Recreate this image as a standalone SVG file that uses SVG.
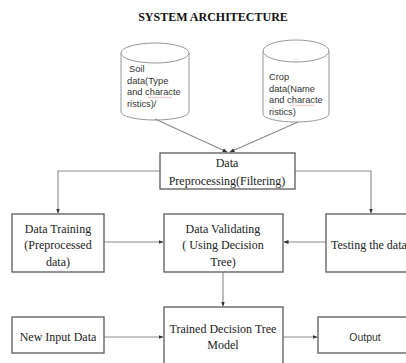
<svg xmlns="http://www.w3.org/2000/svg" width="406" height="363" viewBox="0 0 406 363">
<defs>
<marker id="ah" markerWidth="5" markerHeight="5" refX="4.5" refY="2.5" orient="auto" markerUnits="userSpaceOnUse">
<path d="M0,0.5 L5,2.5 L0,4.5 Z" fill="#333"/>
</marker>
<style>
.box{fill:#fff;stroke:#666;stroke-width:1.4}
.cyl{fill:#fff;stroke:#999;stroke-width:1}
.ln{fill:none;stroke:#8a8a8a;stroke-width:1.1;marker-end:url(#ah)}
.t{font-family:"Liberation Serif",serif;font-size:12px;fill:#222;text-anchor:middle}
.s{font-family:"Liberation Sans",Arial,sans-serif;font-size:9.3px;fill:#333}
.o{font-family:"Liberation Sans",Arial,sans-serif;font-size:10.5px;fill:#333;text-anchor:middle}
.title{font-family:"Liberation Serif",serif;font-size:12px;font-weight:bold;fill:#111;text-anchor:middle}
.sq{fill:none;stroke:#f0a0a8;stroke-width:0.7}
</style>
</defs>
<rect width="406" height="363" fill="#fff"/>
<text class="title" x="213" y="21">SYSTEM ARCHITECTURE</text>

<g id="soil">
<path class="cyl" d="M121,53 L121,112 A34,8 0 0 0 189,112 L189,53"/>
<ellipse class="cyl" cx="155" cy="53" rx="34" ry="10"/>
<text class="s" x="127" y="72"><tspan x="129">Soil</tspan><tspan x="127" dy="11.5">data(Type</tspan><tspan x="127" dy="11.5">and characte</tspan><tspan x="127" dy="11.5">ristics)/</tspan></text>
<path class="sq" d="M148,97 l2,1 l2,-1 l2,1 l2,-1 l2,1 l2,-1 l2,1 l2,-1 l2,1 l2,-1 l2,1 l2,-1"/>
</g>

<g id="crop">
<path class="cyl" d="M263,51 L263,114 A33,8 0 0 0 329,114 L329,51"/>
<ellipse class="cyl" cx="296" cy="51" rx="33" ry="11"/>
<text class="s" x="269" y="80"><tspan x="269">Crop</tspan><tspan x="269" dy="11.5">data(Name</tspan><tspan x="269" dy="11.5">and characte</tspan><tspan x="269" dy="11.5">ristics)</tspan></text>
<path class="sq" d="M290,105 l2,1 l2,-1 l2,1 l2,-1 l2,1 l2,-1 l2,1 l2,-1 l2,1 l2,-1 l2,1 l2,-1"/>
</g>

<g id="connectors">
<path class="ln" d="M155,119 L227,152"/>
<path class="ln" d="M298,122 L230,152"/>
<path class="ln" d="M160,171 L58,171 L58,213"/>
<path class="ln" d="M295,171 L371,171 L371,213"/>
<path class="ln" d="M104,242 L163,242"/>
<path class="ln" d="M326,242 L284,242"/>
<path class="ln" d="M223,272 L223,306"/>
<path class="ln" d="M104,337 L163,337"/>
<path class="ln" d="M283,337 L317,337"/>
</g>

<g id="preprocessing">
<rect class="box" x="160" y="153" width="135" height="36"/>
<text class="t" x="227" y="167">Data</text>
<text class="t" x="227" y="185">Preprocessing(Filtering)</text>
</g>

<g id="training">
<rect class="box" x="12" y="214" width="92" height="58"/>
<text class="t" x="58" y="233">Data Training</text>
<text class="t" x="58" y="249">(Preprocessed</text>
<text class="t" x="58" y="266">data)</text>
</g>

<g id="validating">
<rect class="box" x="164" y="214" width="119" height="58"/>
<text class="t" x="223" y="233">Data Validating</text>
<text class="t" x="223" y="249">( Using Decision</text>
<text class="t" x="223" y="266">Tree)</text>
</g>

<g id="testing">
<rect class="box" x="326" y="214" width="90" height="58"/>
<text class="t" x="331" y="249" style="text-anchor:start">Testing the data</text>
</g>

<g id="newinput">
<rect class="box" x="12" y="317" width="92" height="36"/>
<text class="t" x="58" y="341">New Input Data</text>
</g>

<g id="trained">
<rect class="box" x="164" y="307" width="119" height="66"/>
<text class="t" x="223" y="333">Trained Decision Tree</text>
<text class="t" x="223" y="349">Model</text>
</g>

<g id="output">
<rect class="box" x="318" y="317" width="100" height="36"/>
<text class="o" x="365" y="341">Output</text>
</g>
</svg>
